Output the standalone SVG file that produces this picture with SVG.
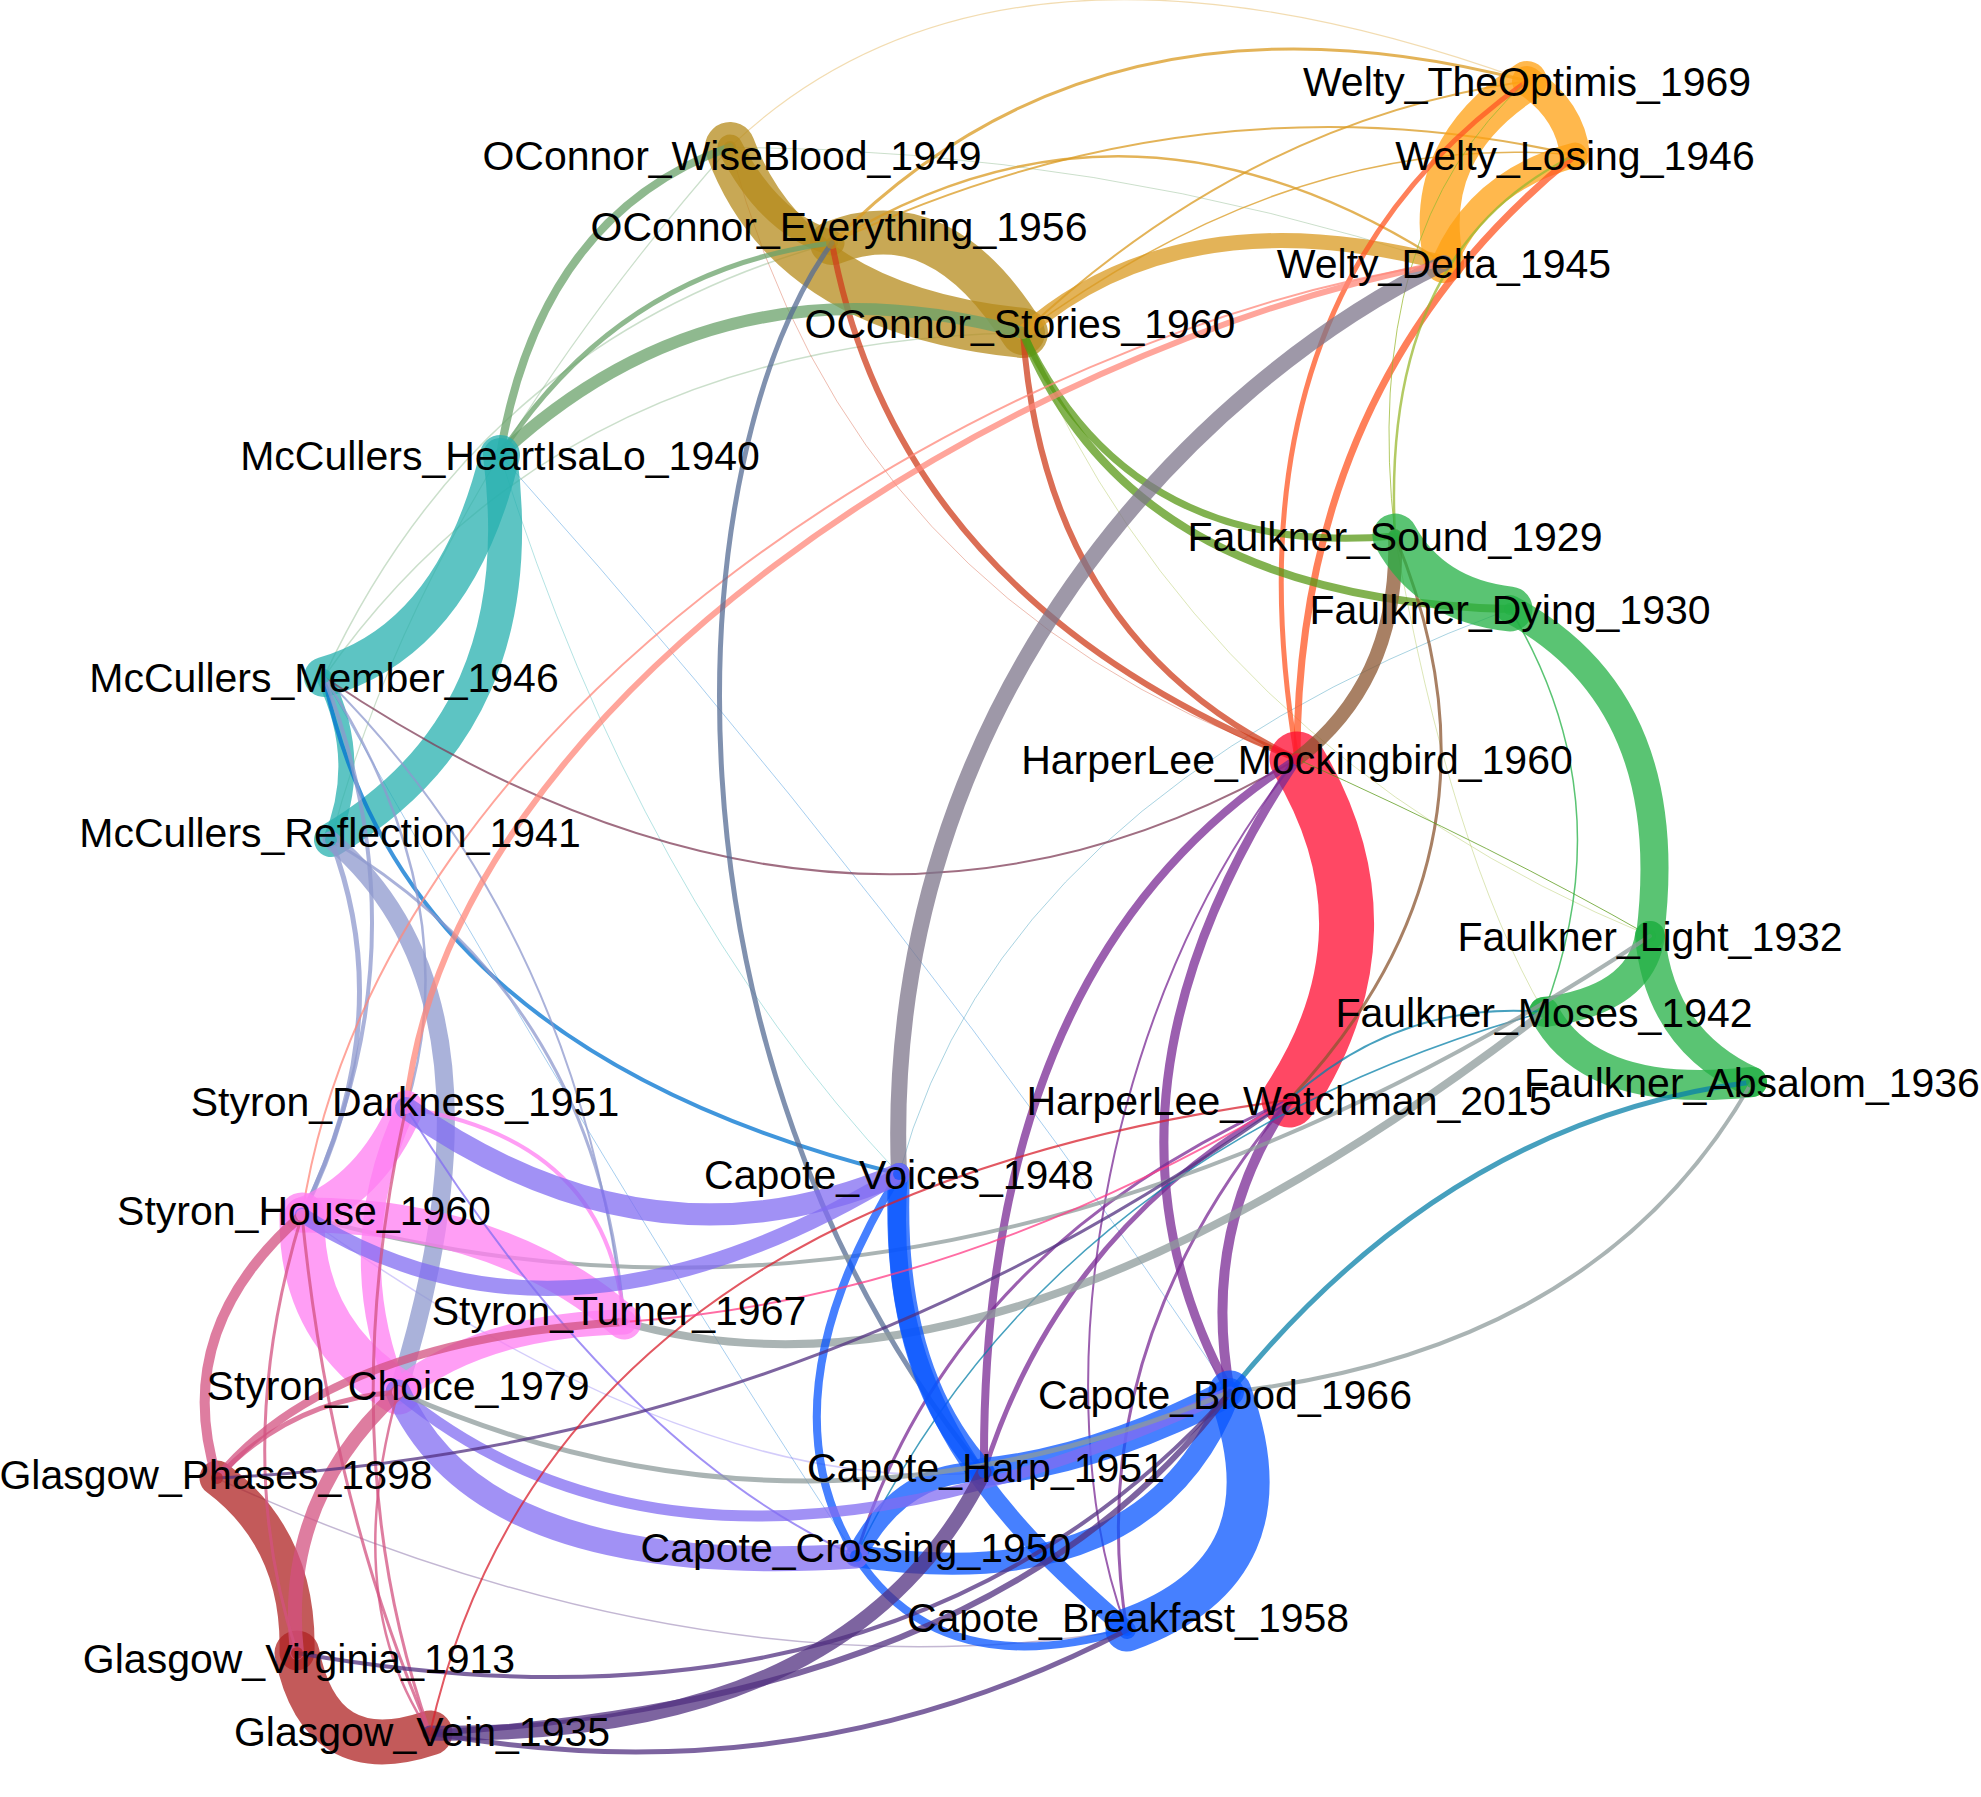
<svg xmlns="http://www.w3.org/2000/svg" width="1981" height="1797" viewBox="0 0 1981 1797">
<style>
.e path{fill:none;stroke-linecap:round;stroke-opacity:.75}
.gold{stroke:#B58B1C}.og{stroke:#DA9A20}.or{stroke:#FFA012}.coral{stroke:#FF5623}
.tc{stroke:#CF3E1C}.olv{stroke:#589816}.yg{stroke:#9AB830}.sg{stroke:#6AA26A}
.tl{stroke:#27B0AF}.bl{stroke:#0073D0}.mv{stroke:#803E58}.lv{stroke:#8E98CE}
.gl{stroke:#7E768B}.sa{stroke:#FF877A}.sl{stroke:#566C94}.rd{stroke:#FF0B30}
.br{stroke:#8B5630}.pu{stroke:#7A2A94}.cb{stroke:#0856FF}.pk{stroke:#FF7EF2}
.pb{stroke:#816CF2}.gy{stroke:#8E9B9B}.tb{stroke:#0880A8}.fg{stroke:#23B044}
.gr{stroke:#AF2323}.pr{stroke:#D35280}.gp{stroke:#523080}.rt{stroke:#D8202E}.pkt{stroke:#FF3C86}
.f{stroke-opacity:.35!important}
.n text{font-family:"Liberation Sans",Arial,sans-serif;font-size:41px;fill:#000;text-anchor:middle}
.n circle{fill-opacity:.7}
</style>
<rect width="1981" height="1797" fill="#fff"/>
<g id="edges" class="e">
<!-- faint long edges -->
<path class="og f" stroke-width="1.2" d="M730,147 Q1000,-110 1527,81"/>
<path class="sg f" stroke-width="1" d="M730,147 Q1100,150 1444,263"/>
<path class="tc f" stroke-width="1" d="M730,147 Q850,600 1297,759"/>
<path class="tl f" stroke-width="1" d="M500,455 Q640,900 899,1174"/>
<path class="bl f" stroke-width="1" d="M324,677 Q620,1200 856,1556"/>
<path class="bl f" stroke-width="1" d="M500,455 Q900,900 1230,1392"/>
<path class="yg f" stroke-width="1" d="M1023,333 Q1200,750 1650,936"/>
<path class="tb f" stroke-width="1" d="M1510,609 Q1000,800 899,1174"/>
<path class="gp f" stroke-width="1.5" d="M216,1478 Q700,1700 1127,1630"/>
<path class="sg f" stroke-width="1.5" d="M324,677 Q480,340 832,243"/>
<path class="sg f" stroke-width="1.5" d="M324,677 Q560,340 1023,333"/>
<path class="sg f" stroke-width="1.2" d="M331,840 Q420,500 730,147"/>
<path class="yg f" stroke-width="1" d="M1395,536 Q1450,850 1544,1012"/>
<path class="pb f" stroke-width="1.5" d="M302,1215 Q700,1500 984,1472"/>
<!-- OConnor -->
<path class="gold" stroke-width="25" d="M730,147 Q770,225 832,243"/>
<path class="gold" stroke-width="50" d="M730,147 Q790,310 1023,333"/>
<path class="gold" stroke-width="44" d="M832,243 Q940,200 1023,333"/>
<path class="og" stroke-width="15" d="M1023,333 Q1180,195 1444,263"/>
<path class="og" stroke-width="3" d="M832,243 Q1100,-30 1527,81"/>
<path class="og" stroke-width="2" d="M832,243 Q1200,70 1575,155"/>
<path class="og" stroke-width="2.5" d="M832,243 Q1130,60 1444,263"/>
<path class="og" stroke-width="2" d="M1023,333 Q1250,120 1527,81"/>
<path class="og" stroke-width="1.5" d="M1023,333 Q1300,130 1575,155"/>
<!-- Welty -->
<path class="or" stroke-width="40" d="M1527,81 Q1420,150 1444,263"/>
<path class="or" stroke-width="30" d="M1527,81 Q1570,110 1575,155"/>
<path class="or" stroke-width="25" d="M1575,155 Q1480,180 1444,263"/>
<path class="coral" stroke-width="7" d="M1575,155 Q1297,379 1297,759"/>
<path class="coral" stroke-width="5" d="M1527,81 Q1219,298 1297,759"/>
<path class="tc" stroke-width="6" d="M832,243 Q898,598 1297,759"/>
<path class="tc" stroke-width="6" d="M1023,333 Q1045,640 1297,759"/>
<path class="olv" stroke-width="7" d="M1023,333 Q1130,560 1395,536"/>
<path class="olv" stroke-width="8" d="M1023,333 Q1130,600 1510,609"/>
<path class="yg" stroke-width="2.5" d="M1395,536 Q1380,250 1575,155"/>
<path class="yg" stroke-width="1" d="M1395,536 Q1360,230 1527,81"/>
<!-- McCullers -->
<path class="sg" stroke-width="8" d="M500,455 Q540,215 730,147"/>
<path class="sg" stroke-width="5" d="M500,455 Q620,270 832,243"/>
<path class="sg" stroke-width="12" d="M500,455 Q720,250 1023,333"/>
<path class="tl" stroke-width="40" d="M500,455 Q455,640 324,677"/>
<path class="tl" stroke-width="34" d="M500,455 Q535,720 331,840"/>
<path class="tl" stroke-width="16" d="M324,677 Q365,760 331,840"/>
<path class="bl" stroke-width="4" d="M324,677 Q400,1050 899,1174"/>
<path class="mv" stroke-width="2" d="M324,677 Q840,1025 1297,759"/>
<path class="lv" stroke-width="18" d="M331,840 Q520,1000 398,1392"/>
<path class="lv" stroke-width="5" d="M331,840 Q400,1020 302,1215"/>
<path class="lv" stroke-width="4" d="M324,677 Q430,950 302,1215"/>
<path class="lv" stroke-width="3" d="M331,840 Q600,1000 624,1322"/>
<path class="lv" stroke-width="2.5" d="M324,677 Q470,900 406,1108"/>
<path class="lv" stroke-width="2" d="M324,677 Q580,930 624,1322"/>
<!-- Welty / OConnor to others -->
<path class="gl" stroke-width="16" d="M1444,263 C1200,380 880,700 899,1174"/>
<path class="sa" stroke-width="6" d="M1444,263 C1000,350 450,700 406,1108"/>
<path class="sa" stroke-width="2" d="M1444,263 C1000,330 380,700 302,1215"/>
<path class="sl" stroke-width="5" d="M832,243 C680,450 640,1050 984,1472"/>
<!-- Harper Lee -->
<path class="rd" stroke-width="55" d="M1297,759 Q1400,930 1289,1100"/>
<path class="br" stroke-width="14" d="M1297,759 Q1400,680 1395,536"/>
<path class="br" stroke-width="3" d="M1395,536 Q1525,850 1289,1100"/>
<path class="pu" stroke-width="8" d="M1297,759 Q980,960 984,1472"/>
<path class="pu" stroke-width="9" d="M1297,759 Q1070,1100 1230,1392"/>
<path class="pu" stroke-width="2" d="M1297,759 C1100,1000 1040,1400 1127,1630"/>
<path class="pu" stroke-width="10" d="M1289,1100 Q1200,1230 1230,1392"/>
<path class="pu" stroke-width="5" d="M1289,1100 Q1060,1230 984,1472"/>
<path class="pu" stroke-width="3" d="M1289,1100 Q950,1250 856,1556"/>
<path class="pu" stroke-width="3" d="M1289,1100 Q1080,1350 1127,1630"/>
<path class="olv" stroke-width="1" d="M1297,759 Q1500,850 1650,936"/>
<!-- Faulkner -->
<path class="fg" stroke-width="45" d="M1395,536 Q1430,600 1510,609"/>
<path class="fg" stroke-width="28" d="M1510,609 Q1680,700 1650,936"/>
<path class="fg" stroke-width="30" d="M1650,936 Q1640,1000 1544,1012"/>
<path class="fg" stroke-width="30" d="M1650,936 Q1660,1040 1752,1082"/>
<path class="fg" stroke-width="30" d="M1544,1012 Q1590,1100 1752,1082"/>
<path class="fg" stroke-width="1.5" d="M1510,609 Q1625,800 1544,1012"/>
<path class="tb" stroke-width="5" d="M1752,1082 Q1450,1120 1230,1392"/>
<path class="tb" stroke-width="2" d="M1544,1012 Q1400,1000 1289,1100"/>
<path class="tb" stroke-width="1.5" d="M1544,1012 Q1050,1150 856,1556"/>
<path class="gy" stroke-width="8" d="M624,1322 Q1000,1430 1544,1012"/>
<path class="gy" stroke-width="4" d="M302,1215 Q950,1400 1650,936"/>
<path class="gy" stroke-width="4" d="M1752,1082 Q1600,1350 1230,1392"/>
<!-- Capote -->
<path class="cb" stroke-width="22" d="M899,1174 Q890,1370 984,1472"/>
<path class="cb" stroke-width="18" d="M899,1174 C880,1400 1000,1520 1127,1630"/>
<path class="cb" stroke-width="8" d="M899,1174 Q760,1400 856,1556"/>
<path class="cb" stroke-width="8" d="M856,1556 Q940,1685 1127,1630"/>
<path class="cb" stroke-width="20" d="M856,1556 Q900,1470 984,1472"/>
<path class="cb" stroke-width="22" d="M856,1556 Q1150,1600 1230,1392"/>
<path class="cb" stroke-width="28" d="M984,1472 Q1100,1460 1230,1392"/>
<path class="cb" stroke-width="43" d="M1230,1392 Q1295,1570 1127,1630"/>
<!-- Styron -->
<path class="pk" stroke-width="35" d="M406,1108 Q370,1190 302,1215"/>
<path class="pk" stroke-width="20" d="M406,1108 Q340,1250 398,1392"/>
<path class="pk" stroke-width="45" d="M302,1215 Q300,1330 398,1392"/>
<path class="pk" stroke-width="35" d="M302,1215 Q500,1215 624,1322"/>
<path class="pk" stroke-width="25" d="M398,1392 Q480,1325 624,1322"/>
<path class="pk" stroke-width="4" d="M406,1108 Q610,1140 624,1322"/>
<path class="pb" stroke-width="22" d="M406,1108 Q650,1280 899,1174"/>
<path class="pb" stroke-width="15" d="M302,1215 Q560,1380 899,1174"/>
<path class="pb" stroke-width="25" d="M398,1392 Q480,1580 856,1556"/>
<path class="pb" stroke-width="11" d="M398,1392 Q700,1640 1230,1392"/>
<path class="pb" stroke-width="2" d="M406,1108 Q620,1450 856,1556"/>
<path class="gy" stroke-width="5" d="M398,1392 Q800,1570 1230,1392"/>
<!-- Glasgow -->
<path class="gr" stroke-width="35" d="M217,1478 Q300,1540 297,1653"/>
<path class="gr" stroke-width="45" d="M297,1653 Q320,1770 430,1733"/>
<path class="pr" stroke-width="10" d="M302,1215 Q170,1330 217,1478"/>
<path class="pr" stroke-width="14" d="M398,1392 Q280,1500 297,1653"/>
<path class="pr" stroke-width="8" d="M624,1322 Q330,1340 217,1478"/>
<path class="pr" stroke-width="5" d="M398,1392 Q290,1400 217,1478"/>
<path class="pr" stroke-width="3" d="M302,1215 Q330,1500 430,1733"/>
<path class="pr" stroke-width="3" d="M302,1215 Q230,1450 297,1653"/>
<path class="pr" stroke-width="3" d="M406,1108 Q330,1450 430,1733"/>
<path class="pr" stroke-width="2.5" d="M398,1392 Q340,1600 430,1733"/>
<path class="gp" stroke-width="15" d="M430,1733 Q850,1740 984,1472"/>
<path class="gp" stroke-width="6" d="M430,1733 Q1000,1700 1230,1392"/>
<path class="gp" stroke-width="5" d="M430,1733 Q800,1800 1127,1630"/>
<path class="gp" stroke-width="4" d="M297,1653 Q900,1760 1230,1392"/>
<path class="gp" stroke-width="3" d="M217,1478 Q800,1450 1289,1100"/>
<path class="rt" stroke-width="2" d="M430,1733 Q550,1200 1289,1100"/>
<path class="pkt" stroke-width="2" d="M624,1322 Q950,1300 1289,1100"/>
</g>
<g id="n-WTO" class="n"><circle cx="1527" cy="81" r="6" fill="#FFA012"/><text x="1527" y="96">Welty_TheOptimis_1969</text></g>
<g id="n-WLo" class="n"><circle cx="1575" cy="155" r="6" fill="#FFA012"/><text x="1575" y="170">Welty_Losing_1946</text></g>
<g id="n-WDe" class="n"><circle cx="1444" cy="263" r="6" fill="#FFA012"/><text x="1444" y="278">Welty_Delta_1945</text></g>
<g id="n-OWB" class="n"><circle cx="730" cy="147" r="6" fill="#B58B1C"/><text x="732" y="170">OConnor_WiseBlood_1949</text></g>
<g id="n-OEv" class="n"><circle cx="832" cy="243" r="6" fill="#B58B1C"/><text x="839" y="241">OConnor_Everything_1956</text></g>
<g id="n-OSt" class="n"><circle cx="1023" cy="333" r="6" fill="#B58B1C"/><text x="1020" y="338">OConnor_Stories_1960</text></g>
<g id="n-MHe" class="n"><circle cx="500" cy="455" r="6" fill="#27B0AF"/><text x="500" y="470">McCullers_HeartIsaLo_1940</text></g>
<g id="n-MMe" class="n"><circle cx="324" cy="677" r="6" fill="#27B0AF"/><text x="324" y="692">McCullers_Member_1946</text></g>
<g id="n-MRe" class="n"><circle cx="331" cy="840" r="6" fill="#27B0AF"/><text x="330" y="847">McCullers_Reflection_1941</text></g>
<g id="n-SDa" class="n"><circle cx="406" cy="1108" r="6" fill="#FF7EF2"/><text x="405" y="1116">Styron_Darkness_1951</text></g>
<g id="n-SHo" class="n"><circle cx="302" cy="1215" r="6" fill="#FF7EF2"/><text x="304" y="1225">Styron_House_1960</text></g>
<g id="n-STu" class="n"><circle cx="624" cy="1322" r="6" fill="#FF7EF2"/><text x="619" y="1325">Styron_Turner_1967</text></g>
<g id="n-SCh" class="n"><circle cx="398" cy="1392" r="6" fill="#FF7EF2"/><text x="398" y="1400">Styron_Choice_1979</text></g>
<g id="n-GPh" class="n"><circle cx="217" cy="1478" r="6" fill="#AF2323"/><text x="216" y="1489">Glasgow_Phases_1898</text></g>
<g id="n-GVi" class="n"><circle cx="297" cy="1653" r="6" fill="#AF2323"/><text x="299" y="1673">Glasgow_Virginia_1913</text></g>
<g id="n-GVe" class="n"><circle cx="430" cy="1733" r="6" fill="#AF2323"/><text x="422" y="1746">Glasgow_Vein_1935</text></g>
<g id="n-CVo" class="n"><circle cx="899" cy="1174" r="6" fill="#0856FF"/><text x="899" y="1189">Capote_Voices_1948</text></g>
<g id="n-HMo" class="n"><circle cx="1297" cy="759" r="6" fill="#FF0B30"/><text x="1297" y="774">HarperLee_Mockingbird_1960</text></g>
<g id="n-HWa" class="n"><circle cx="1289" cy="1100" r="6" fill="#FF0B30"/><text x="1289" y="1115">HarperLee_Watchman_2015</text></g>
<g id="n-FSo" class="n"><circle cx="1395" cy="536" r="6" fill="#23B044"/><text x="1395" y="551">Faulkner_Sound_1929</text></g>
<g id="n-FDy" class="n"><circle cx="1510" cy="609" r="6" fill="#23B044"/><text x="1510" y="624">Faulkner_Dying_1930</text></g>
<g id="n-FLi" class="n"><circle cx="1650" cy="936" r="6" fill="#23B044"/><text x="1650" y="951">Faulkner_Light_1932</text></g>
<g id="n-FMo" class="n"><circle cx="1544" cy="1012" r="6" fill="#23B044"/><text x="1544" y="1027">Faulkner_Moses_1942</text></g>
<g id="n-FAb" class="n"><circle cx="1752" cy="1082" r="6" fill="#23B044"/><text x="1752" y="1097">Faulkner_Absalom_1936</text></g>
<g id="n-CBl" class="n"><circle cx="1230" cy="1392" r="6" fill="#0856FF"/><text x="1225" y="1409">Capote_Blood_1966</text></g>
<g id="n-CHa" class="n"><circle cx="984" cy="1472" r="6" fill="#0856FF"/><text x="986" y="1482">Capote_Harp_1951</text></g>
<g id="n-CCr" class="n"><circle cx="856" cy="1556" r="6" fill="#0856FF"/><text x="856" y="1562">Capote_Crossing_1950</text></g>
<g id="n-CBr" class="n"><circle cx="1127" cy="1630" r="6" fill="#0856FF"/><text x="1128" y="1632">Capote_Breakfast_1958</text></g>
</svg>
